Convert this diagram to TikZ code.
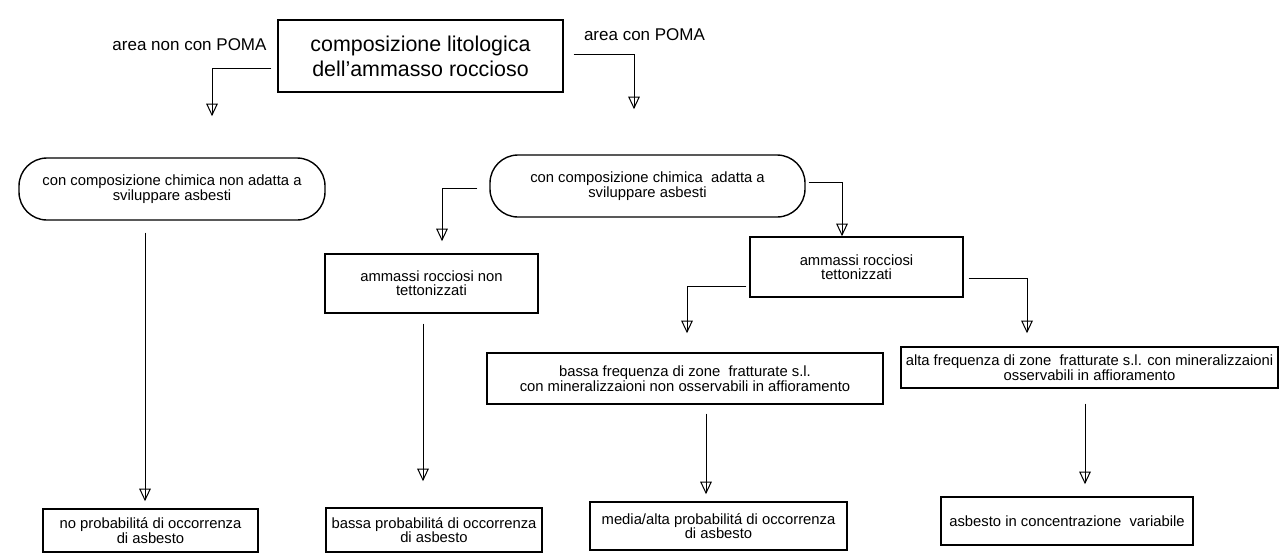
\documentclass[tikz,border=0pt]{standalone}
\usepackage{fontspec}
\setmainfont{Liberation Sans}
\usetikzlibrary{calc,decorations.markings}

\begin{document}
\begin{tikzpicture}[x=0.5pt,y=-0.5pt,
    box/.style={draw,line width=0.7pt,align=center,inner sep=0pt,font=\fontsize{7.4}{7.2}\selectfont},
    pill/.style={box,rounded corners=14pt},
    lbl/.style={inner sep=0pt,font=\fontsize{8.5}{10}\selectfont},
    link/.style={line width=0.5pt,postaction={decorate},
      decoration={markings,mark=at position 1 with {\draw[line width=0.5pt] (0,0)--(-5.5pt,2.6pt)--(-5.5pt,-2.6pt)--cycle;}}}]
    \useasboundingbox (0,0) rectangle (1280,553);

    % boxes
    \node[box,minimum width=142.5pt,minimum height=36pt,font=\fontsize{10.7}{12.5}\selectfont] (lito) at (420.5,56) {composizione litologica\\dell'ammasso roccioso};
    \node[lbl] (nopoma) at (189.5,45) {area non con POMA};
    \node[lbl] (poma) at (644.5,35) {area con POMA};
    \node[pill,minimum width=153pt,minimum height=31pt] (nonadatta) at (172,189) {con composizione chimica non adatta a\\sviluppare asbesti};
    \node[pill,minimum width=157.5pt,minimum height=31pt] (adatta) at (647.5,186) {con composizione chimica \ adatta a\\sviluppare asbesti};
    \node[box,minimum width=106.5pt,minimum height=29.5pt] (nontett) at (431.5,283.5) {ammassi rocciosi non\\tettonizzati};
    \node[box,minimum width=106.5pt,minimum height=30pt] (tett) at (856.5,267) {ammassi rocciosi\\tettonizzati};
    \node[box,minimum width=198pt,minimum height=25.5pt] (bassafreq) at (685,378.5) {bassa frequenza di zone \ fratturate s.l.\\con mineralizzaioni non osservabili in affioramento};
    \node[box,minimum width=188.5pt,minimum height=20.5pt] (altafreq) at (1089.5,367.5) {alta frequenza di zone \ fratturate s.l. con mineralizzaioni\\osservabili in affioramento};
    \node[box,minimum width=107.5pt,minimum height=21.5pt] (noprob) at (150.5,530.5) {no probabilitá di occorrenza\\di asbesto};
    \node[box,minimum width=108pt,minimum height=22pt] (bassaprob) at (434,530) {bassa probabilitá di occorrenza\\di asbesto};
    \node[box,minimum width=128.5pt,minimum height=24pt] (mediaprob) at (718.5,526) {media/alta probabilitá di occorrenza\\di asbesto};
    \node[box,minimum width=126pt,minimum height=24pt] (asbesto) at (1067,521) {asbesto in concentrazione \ variabile};

    % arrow ends
    \coordinate (tipa) at (212,115);
    \coordinate (tipb) at (634,108);
    \coordinate (tipc) at (145,500);
    \coordinate (tipd) at (442,240);
    \coordinate (tipe) at (842,235);
    \coordinate (tipf) at (423,480);
    \coordinate (tipg) at (687,332);
    \coordinate (tiph) at (1027,332);
    \coordinate (tipi) at (706,493);
    \coordinate (tipj) at (1085,483);

    % connectors
    \draw[link] ($(lito.west)+(-6,12)$) -| (tipa);
    \draw[link] ($(lito.east)+(10,-2)$) -| (tipb);
    \draw[link] ($(nonadatta.south)+(-27,12)$) -- (tipc);
    \draw[link] ($(adatta.west)+(-12,2)$) -| (tipd);
    \draw[link] ($(adatta.east)+(3,-4)$) -| (tipe);
    \draw[link] ($(nontett.south)+(-8.5,10)$) -- (tipf);
    \draw[link] ($(tett.west)+(-3,19)$) -| (tipg);
    \draw[link] ($(tett.east)+(5,11)$) -| (tiph);
    \draw[link] ($(bassafreq.south)+(21,9)$) -- (tipi);
    \draw[link] ($(altafreq.south)+(-4.5,15)$) -- (tipj);
\end{tikzpicture}
\end{document}
